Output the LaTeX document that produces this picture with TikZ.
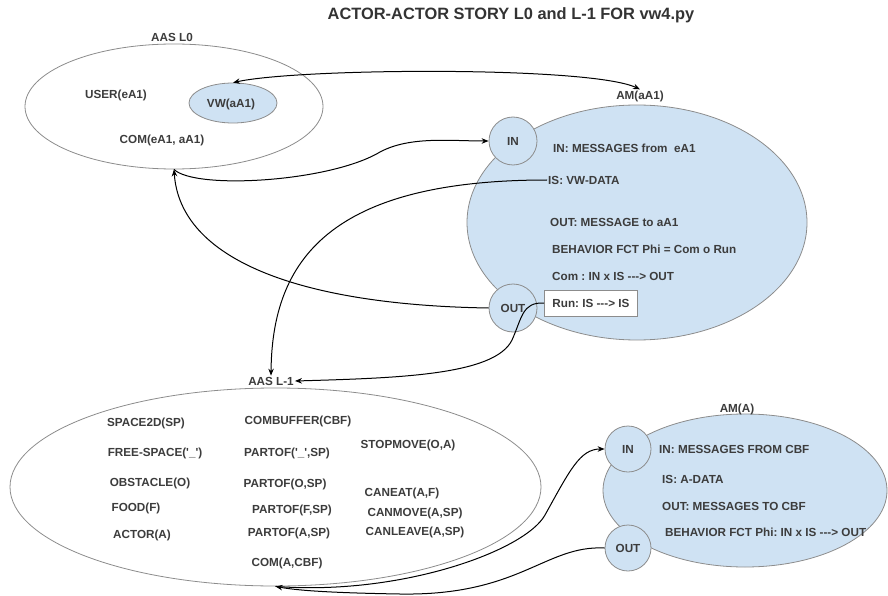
\documentclass[tikz,border=0pt]{standalone}
\usepackage{fontspec}
\setmainfont{Liberation Sans}
\usetikzlibrary{shapes.geometric,arrows.meta}
\definecolor{txt}{HTML}{3C3C3C}
\definecolor{fillblue}{HTML}{CFE2F3}
\definecolor{edgegray}{HTML}{8C8C8C}
\frenchspacing
\begin{document}
\begin{tikzpicture}[x=1pt,y=-1pt,
  lbl/.style={font=\fontsize{11.7}{14}\selectfont\bfseries, text=txt, inner sep=1pt},
  lft/.style={lbl, anchor=west},
  ell/.style={ellipse, draw=edgegray, line width=0.8pt, inner sep=0pt},
  port/.style={circle, draw=edgegray, fill=fillblue, line width=0.8pt, minimum size=48pt, inner sep=0pt, lbl},
  conn/.style={draw=black, line width=1pt},
  >={Stealth[length=7pt,width=5.5pt]},
]
\useasboundingbox (0,0) rectangle (888,596);

% title
\node[lbl, font=\fontsize{16.4}{19}\selectfont\bfseries, text=black!80] (title) at (511,15) {ACTOR-ACTOR STORY L0 and L-1 FOR vw4.py};

% AAS L0
\node[ell, fill=white, minimum width=298pt, minimum height=125pt] (l0) at (174,106.5) {};
\node[lbl] (l0lbl) at (172,37) {AAS L0};
\node[lbl] (user) at (116,95) {USER(eA1)};
\node[ell, fill=fillblue, minimum width=88pt, minimum height=40pt] (vw) at (233,103) {};
\node[lbl] (vwtxt) at (231,104) {VW(aA1)};
\node[lbl] (com0) at (162,140) {COM(eA1, aA1)};

% AM(aA1)
\node[ell, fill=fillblue, minimum width=340pt, minimum height=235pt] (am1) at (637,222.5) {};
\node[lbl] (am1lbl) at (640,96) {AM(aA1)};
\node[port] (in1) at (513,141) {IN};
\node[port] (out1) at (513,308) {OUT};
\node[lft] (t1) at (552,148) {IN: MESSAGES from\ \ eA1};
\node[lft] (is1) at (547,180) {IS: VW-DATA};
\node[lft] (t3) at (549,222) {OUT: MESSAGE to aA1};
\node[lft] (t4) at (551,249) {BEHAVIOR FCT Phi = Com o Run};
\node[lft] (t5) at (551,276) {Com : IN x IS -{}-{}-> OUT};
\node[lbl, draw=edgegray, fill=white, line width=0.8pt, anchor=west, inner xsep=8pt, minimum height=26pt] (run) at (544,303) {Run: IS -{}-{}-> IS};

% AAS L-1
\node[ell, fill=white, minimum width=531pt, minimum height=198pt] (l1) at (275.5,487) {};
\node[lbl] (l1lbl) at (271,381) {AAS L-1};
\node[lbl] (a1) at (146,423) {SPACE2D(SP)};
\node[lbl] (a2) at (298,421) {COMBUFFER(CBF)};
\node[lbl] (a3) at (408,445) {STOPMOVE(O,A)};
\node[lbl] (a4) at (155,453) {FREE-SPACE(\textquotesingle\_\textquotesingle)};
\node[lbl] (a5) at (287,453) {PARTOF(\textquotesingle\_\textquotesingle,SP)};
\node[lbl] (a6) at (150,483) {OBSTACLE(O)};
\node[lbl] (a7) at (285,484) {PARTOF(O,SP)};
\node[lbl] (a8) at (402,493) {CANEAT(A,F)};
\node[lbl] (a9) at (136,508) {FOOD(F)};
\node[lbl] (a10) at (292,510) {PARTOF(F,SP)};
\node[lbl] (a11) at (415,513) {CANMOVE(A,SP)};
\node[lbl] (a12) at (142,535) {ACTOR(A)};
\node[lbl] (a13) at (289,533) {PARTOF(A,SP)};
\node[lbl] (a14) at (415,532) {CANLEAVE(A,SP)};
\node[lbl] (a15) at (287,563) {COM(A,CBF)};

% AM(A)
\node[ell, fill=fillblue, minimum width=284pt, minimum height=153pt] (am2) at (745,490.5) {};
\node[lbl] (am2lbl) at (737,409) {AM(A)};
\node[port, minimum size=46pt] (in2) at (628,449) {IN};
\node[port, minimum size=46pt] (out2) at (628,548) {OUT};
\node[lft] (b1) at (658,449) {IN: MESSAGES FROM CBF};
\node[lft] (b2) at (661,479) {IS: A-DATA};
\node[lft] (b3) at (661,506) {OUT: MESSAGES TO CBF};
\node[lft] (b4) at (664,532) {BEHAVIOR FCT Phi: IN x IS -{}-{}-> OUT};

% connectors
\draw[conn,<->] (vw.north) .. controls (300,68) and (590,66) .. (am1lbl.north);
\draw[conn,->] (l0.south) .. controls (195,190) and (330,182) .. (380,152) .. controls (410,136) and (450,141) .. (in1.west);
\draw[conn,->] (out1.west) .. controls (300,305) and (180,260) .. (l0.south);
\draw[conn,->] (is1.west) .. controls (330,180) and (272,260) .. (l1lbl.north);
\draw[conn,->] (run.west) .. controls (522,302) and (522,318) .. (512,340) .. controls (495,375) and (400,378) .. (l1lbl.east);
\draw[conn,->] (out2.west) .. controls (545,545) and (520,596) .. (400,594) .. controls (340,593) and (300,591) .. (l1.south);
\draw[conn,->] (l1.south) .. controls (400,596) and (525,551) .. (545,515) .. controls (570,470) and (580,449) .. (in2.west);
\end{tikzpicture}
\end{document}
